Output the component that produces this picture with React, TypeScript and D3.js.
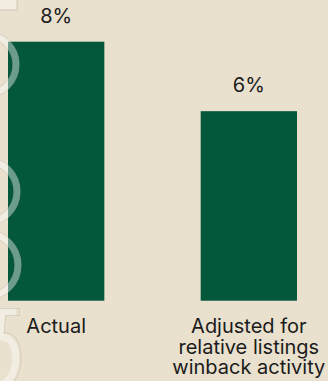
import React from "react";
import * as d3 from "d3";

const categories = ["Actual", "Adjusted for relative listings winback activity"];
const categoryLines = [["Actual"], ["Adjusted for", "relative listings", "winback activity"]];
const values = [8.2, 6.0];
const valueLabels = ["8%", "6%"];

const W = 328;
const H = 381;
const BG = "#e9e0ce";
const BAR = "#03573a";
const FONT = "Inter, 'Noto Sans', sans-serif";

export default function App() {
  const x = d3.scaleBand<string>().domain(categories).range([8, 297]).paddingInner(0.5).paddingOuter(0);
  const y = d3.scaleLinear().domain([0, d3.max(values) as number]).range([300.7, 41.7]);

  const ringStroke = "rgba(255,255,255,0.42)";
  const edge = "rgba(120,110,95,0.18)";
  const rings = [
    { cx: -14, cy: 64.5, r: 30 },
    { cx: -14, cy: 191.5, r: 31 },
    { cx: -14, cy: 265, r: 32 },
  ];

  return (
    <svg width={W} height={H} style={{ position: "fixed", top: 0, left: 0 }} fontFamily={FONT}>
      <rect x={0} y={0} width={W} height={H} fill={BG} />
      {categories.map((c, i) => (
        <rect key={c} x={x(c)} y={y(values[i])} width={x.bandwidth()} height={y(0) - y(values[i])} fill={BAR} />
      ))}
      {/* decorative watermark outlines on the left */}
      <g>
        <rect x={-4} y={-4} width={21} height={14} fill="rgba(255,255,255,0.4)" stroke={edge} strokeWidth={1.5} />
        {rings.map((r, i) => (
          <g key={i}>
            <circle cx={r.cx} cy={r.cy} r={r.r} fill="none" stroke={ringStroke} strokeWidth={7} />
            <circle cx={r.cx} cy={r.cy} r={r.r + 3.5} fill="none" stroke={edge} strokeWidth={1} />
            <circle cx={r.cx} cy={r.cy} r={r.r - 3.5} fill="none" stroke={edge} strokeWidth={1} />
          </g>
        ))}
        <path d="M-10,312 L16,312 M2,312 L0,338 M0,338 C20,332 22,380 0,385" fill="none" stroke={ringStroke} strokeWidth={7} />
        <path d="M-10,308.5 L19.5,308.5 L19.5,315.5 L5.5,315.5 L4,333 C26,330 28,381 3,390" fill="none" stroke={edge} strokeWidth={1} />
      </g>
      {categories.map((c, i) => (
        <text key={c + "v"} x={(x(c) as number) + x.bandwidth() / 2} y={y(values[i]) - 18.7} textAnchor="middle" fontSize={20} fill="#1b1b1b">
          {valueLabels[i]}
        </text>
      ))}
      {categories.map((c, i) => (
        <text key={c + "l"} x={(x(c) as number) + x.bandwidth() / 2} y={333} textAnchor="middle" fontSize={20} fill="#1b1b1b">
          {categoryLines[i].map((line, j) => (
            <tspan key={j} x={(x(c) as number) + x.bandwidth() / 2} dy={j === 0 ? 0 : 20.5}>
              {line}
            </tspan>
          ))}
        </text>
      ))}
    </svg>
  );
}
